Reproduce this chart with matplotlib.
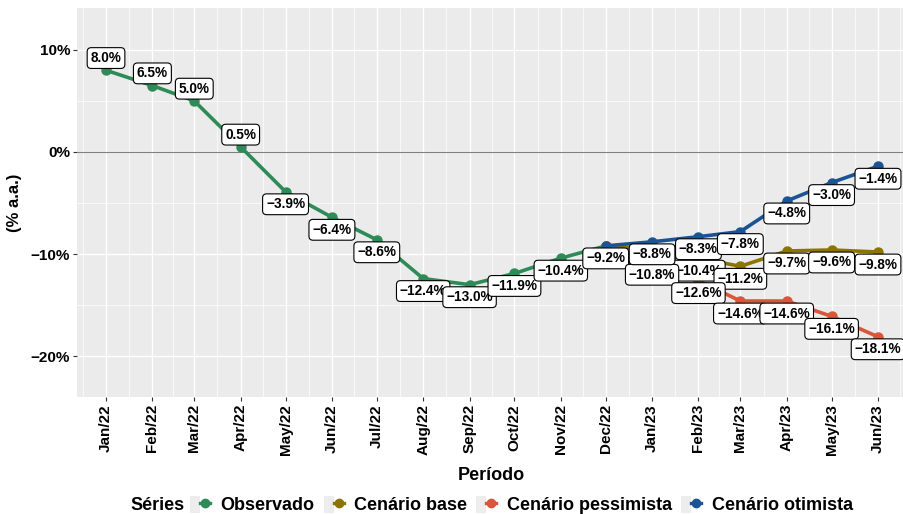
import matplotlib
matplotlib.use('Agg')
import matplotlib.pyplot as plt
import matplotlib.dates as mdates
from matplotlib.lines import Line2D
from matplotlib.patches import Patch
from matplotlib.legend_handler import HandlerTuple
import pandas as pd

plt.rcParams['font.family'] = ['Liberation Sans', 'DejaVu Sans']

# dados (% a.a.)
meses = pd.date_range('2022-01-01', '2023-06-01', freq='MS')
rotulos_x = ['Jan/22', 'Feb/22', 'Mar/22', 'Apr/22', 'May/22', 'Jun/22', 'Jul/22',
             'Aug/22', 'Sep/22', 'Oct/22', 'Nov/22', 'Dec/22', 'Jan/23', 'Feb/23',
             'Mar/23', 'Apr/23', 'May/23', 'Jun/23']

observado = [8.0, 6.5, 5.0, 0.5, -3.9, -6.4, -8.6, -12.4, -13.0, -11.9, -10.4, -9.2]
cen_base = [-9.2, -9.6, -10.4, -11.2, -9.7, -9.6, -9.8]
cen_pess = [-9.2, -10.8, -12.6, -14.6, -14.6, -16.1, -18.1]
cen_otim = [-9.2, -8.8, -8.3, -7.8, -4.8, -3.0, -1.4]

cores = {'Observado': '#2E8B57', 'Cenário base': '#8B7500',
         'Cenário pessimista': '#D9553B', 'Cenário otimista': '#1B5494'}

x_obs = meses[:12]
x_cen = meses[11:]
series = [('Observado', x_obs, observado),
          ('Cenário base', x_cen, cen_base),
          ('Cenário pessimista', x_cen, cen_pess),
          ('Cenário otimista', x_cen, cen_otim)]


def fmt(v):
    s = '%.1f%%' % abs(v)
    return ('\u2212' + s) if v < 0 else s


fig = plt.figure(figsize=(9.04, 5.14), dpi=100)
ax = fig.add_axes([77 / 904, 117 / 514, 830 / 904, 389 / 514])
ax.set_facecolor('#EBEBEB')
for s in ax.spines.values():
    s.set_visible(False)

# grade
ax.set_yticks([-20, -10, 0, 10])
ax.set_yticks([-15, -5, 5], minor=True)
ax.set_xticks(meses)
meios = [meses[0] - pd.Timedelta(days=15.5)] + \
        [a + (b - a) / 2 for a, b in zip(meses[:-1], meses[1:])] + \
        [meses[-1] + pd.Timedelta(days=15)]
ax.set_xticks(meios, minor=True)
ax.grid(which='major', color='white', lw=1.0)
ax.grid(which='minor', color='white', lw=0.5)
ax.set_axisbelow(True)
ax.axhline(0, color='#808080', lw=0.8, zorder=1)

for nome, xs, ys in series:
    ax.plot(xs, ys, color=cores[nome], lw=2.6, marker='o', ms=6.5, zorder=3)

# rótulos
for nome, xs, ys in series:
    for i, (xx, yy) in enumerate(zip(xs, ys)):
        if nome != 'Observado' and i == 0:
            continue
        acima = nome == 'Observado' and i < 4
        ax.annotate(fmt(yy), (xx, yy), xytext=(0, 8.8 if acima else -9.0),
                    textcoords='offset points', ha='center', va='center',
                    fontsize=9.8, fontweight='bold', zorder=5,
                    bbox=dict(boxstyle='round,pad=0.25,rounding_size=0.3',
                              fc='white', ec='black', lw=0.8))

ax.set_xlim(mdates.date2num(meses[0]) - 19.4, mdates.date2num(meses[-1]) + 19.4)
ax.set_ylim(-24.0, 14.1)
ax.set_xticklabels(rotulos_x, rotation=90)
ax.set_yticklabels([fmt(v).replace('.0', '') for v in [-20, -10, 0, 10]])
ax.tick_params(which='major', length=3, width=0.8, color='#333333', pad=2,
               labelsize=11, labelcolor='black')
ax.tick_params(which='minor', length=0)
for t in ax.get_xticklabels() + ax.get_yticklabels():
    t.set_fontweight('bold')

fig.text(15 / 904, 1 - 203 / 514, '(% a.a.)', rotation=90, ha='center', va='center',
         fontsize=12, fontweight='bold')
fig.text(491 / 904, 1 - 475 / 514, 'Período', ha='center', va='center',
         fontsize=13, fontweight='bold')

# legenda
fig.text(130 / 904, 1 - 505 / 514, 'Séries', ha='left', va='center',
         fontsize=13, fontweight='bold')
handles = [(Patch(facecolor='#EDEDED', edgecolor='none'),
            Line2D([], [], color=cores[n], lw=2.4, marker='o', ms=6))
           for n, _, _ in series]
fig.legend(handles, [n for n, _, _ in series], loc='center left',
           bbox_to_anchor=(190 / 904, 1 - 505 / 514), ncol=4, frameon=False,
           prop={'size': 13, 'weight': 'bold'}, handlelength=1.1, handleheight=1.1,
           handletextpad=0.6, columnspacing=0.5, borderpad=0, borderaxespad=0,
           handler_map={tuple: HandlerTuple(ndivide=None, pad=0)})

fig.savefig('out.png', dpi=100)
